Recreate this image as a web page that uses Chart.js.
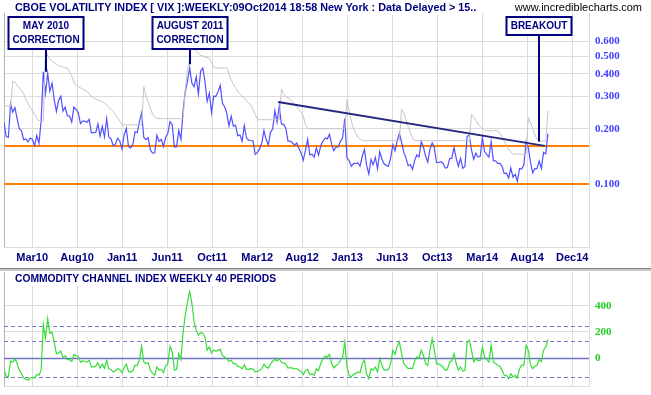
<!DOCTYPE html>
<html lang="en">
<head>
<meta charset="UTF-8" />
<title>CBOE Volatility Index weekly</title>
<script src="https://cdn.jsdelivr.net/npm/chart.js@4.4.1/dist/chart.umd.min.js"></script>
<style>
  body { margin: 0; background: #fff; }
  #wrap { position: relative; width: 651px; height: 395px; overflow: hidden; }
  #wrap canvas { position: absolute; left: 0; }
  #sep1 { position: absolute; left: 0; top: 268px; width: 651px; height: 1px; background: #808080; }
  #sep2 { position: absolute; left: 0; top: 269px; width: 651px; height: 2px; background: #c8c8c8; }
</style>
</head>
<body>
<div id="wrap">
  <canvas id="vixChart" width="651" height="268" style="top:0"></canvas>
  <div id="sep1"></div><div id="sep2"></div>
  <canvas id="cciChart" width="651" height="124" style="top:271px"></canvas>
</div>
<script>
// weekly closes, week ending 1 Jan 2010 .. 9 Oct 2014 (VIX / 100)
const vixClose = [
  0.2168, 0.1813, 0.1791, 0.2731, 0.2462, 0.2611, 0.2273, 0.2002, 0.1950, 0.1742,
  0.1758, 0.1697, 0.1777, 0.1747, 0.1614, 0.1836, 0.1662, 0.2205, 0.4095, 0.3124,
  0.4010, 0.3207, 0.3548, 0.2879, 0.2488, 0.2853, 0.3012, 0.2498, 0.2625, 0.2347,
  0.2350, 0.2174, 0.2624, 0.2549, 0.2445, 0.2131, 0.2199, 0.2201, 0.2171, 0.2250,
  0.1896, 0.1903, 0.1908, 0.2120, 0.1826, 0.2061, 0.1804, 0.2273, 0.1801, 0.1761,
  0.1611, 0.1647, 0.1775,
  0.1714, 0.1546, 0.1847, 0.2004, 0.1593, 0.1569, 0.1643, 0.1922, 0.1906, 0.2188,
  0.2444, 0.1791, 0.1740, 0.1787, 0.1532, 0.1469, 0.1475, 0.1840, 0.1707, 0.1743,
  0.1598, 0.1795, 0.1886, 0.2185, 0.2110, 0.1587, 0.1595, 0.1953, 0.1752, 0.2525,
  0.3200, 0.3636, 0.4305, 0.3559, 0.3392, 0.3852, 0.3098, 0.4125, 0.4296, 0.3627,
  0.2824, 0.3132, 0.2453, 0.3016, 0.3004, 0.3200, 0.3447, 0.2752, 0.2638, 0.2429,
  0.2073, 0.2340,
  0.2063, 0.2091, 0.1828, 0.1853, 0.1710, 0.2079, 0.1778, 0.1731, 0.1729, 0.1711,
  0.1447, 0.1482, 0.1550, 0.1670, 0.1955, 0.1744, 0.1632, 0.1916, 0.1989, 0.2510,
  0.2176, 0.2666, 0.2123, 0.2111, 0.2011, 0.1708, 0.1710, 0.1674, 0.1627, 0.1670,
  0.1564, 0.1474, 0.1345, 0.1518, 0.1747, 0.1438, 0.1451, 0.1398, 0.1573, 0.1433,
  0.1614, 0.1706, 0.1781, 0.1759, 0.1861, 0.1641, 0.1514, 0.1587, 0.1590, 0.1700,
  0.1784, 0.2272,
  0.1383, 0.1336, 0.1246, 0.1289, 0.1290, 0.1302, 0.1246, 0.1417, 0.1536, 0.1259,
  0.1130, 0.1357, 0.1270, 0.1392, 0.1206, 0.1497, 0.1361, 0.1285, 0.1259, 0.1245,
  0.1385, 0.1630, 0.1514, 0.1715, 0.1890, 0.1686, 0.1489, 0.1384, 0.1254, 0.1272,
  0.1198, 0.1341, 0.1437, 0.1398, 0.1701, 0.1585, 0.1416, 0.1312, 0.1546, 0.1674,
  0.1572, 0.1304, 0.1309, 0.1319, 0.1290, 0.1219, 0.1226, 0.1370, 0.1379, 0.1576,
  0.1379, 0.1246,
  0.1376, 0.1214, 0.1244, 0.1814, 0.1841, 0.1529, 0.1357, 0.1468, 0.1400, 0.1411,
  0.1782, 0.1500, 0.1441, 0.1396, 0.1703, 0.1336, 0.1332, 0.1291, 0.1292, 0.1244,
  0.1136, 0.1140, 0.1073, 0.1218, 0.1085, 0.1126, 0.1032, 0.1208, 0.1206, 0.1269,
  0.1695, 0.1577, 0.1315, 0.1147, 0.1209, 0.1209, 0.1331, 0.1211, 0.1485, 0.1455,
  0.1876
];

// grey stop line above the price
const stopLine = [
  0.270, 0.268, 0.265, 0.262, 0.365, 0.360, 0.345, 0.335, 0.325, 0.310,
  0.290, 0.275, 0.262, 0.250, 0.240, 0.228, 0.222, 0.220, 0.220, 0.540,
  0.500, 0.480, 0.470, 0.460, 0.450, 0.440, 0.440, 0.435, 0.430, 0.430,
  0.410, 0.390, 0.360, 0.345, 0.340, 0.335, 0.330, 0.325, 0.320, 0.310,
  0.300, 0.295, 0.290, 0.288, 0.285, 0.280, 0.275, 0.270, 0.262, 0.255,
  0.248, 0.240, 0.230, 0.220, 0.210, 0.210, 0.210, 0.210, 0.210, 0.210,
  0.210, 0.210, 0.210, 0.210, 0.340, 0.300, 0.280, 0.260, 0.240, 0.232,
  0.227, 0.227, 0.227, 0.227, 0.227, 0.227, 0.227, 0.227, 0.227, 0.227,
  0.227, 0.227, 0.227, 0.330, 0.420, 0.480, 0.610, 0.570, 0.530, 0.515,
  0.505, 0.500, 0.495, 0.490, 0.485, 0.460, 0.435, 0.430, 0.430, 0.430,
  0.430, 0.430, 0.430, 0.400, 0.370, 0.350, 0.335, 0.320, 0.310, 0.300,
  0.295, 0.285, 0.275, 0.270, 0.255, 0.240, 0.224, 0.224, 0.224, 0.224,
  0.224, 0.224, 0.224, 0.224, 0.224, 0.224, 0.224, 0.330, 0.310, 0.300,
  0.295, 0.290, 0.280, 0.270, 0.265, 0.255, 0.245, 0.235, 0.210, 0.200,
  0.200, 0.200, 0.200, 0.200, 0.200, 0.200, 0.200, 0.200, 0.200, 0.200,
  0.200, 0.200, 0.200, 0.200, 0.200, 0.200, 0.200, 0.288, 0.250, 0.220,
  0.200, 0.190, 0.180, 0.175, 0.172, 0.172, 0.172, 0.172, 0.172, 0.172,
  0.172, 0.172, 0.172, 0.172, 0.172, 0.172, 0.172, 0.172, 0.172, 0.172,
  0.172, 0.172, 0.256, 0.245, 0.225, 0.205, 0.190, 0.178, 0.172, 0.172,
  0.172, 0.172, 0.172, 0.172, 0.172, 0.172, 0.172, 0.172, 0.172, 0.172,
  0.172, 0.172, 0.172, 0.172, 0.172, 0.172, 0.172, 0.172, 0.172, 0.172,
  0.172, 0.172, 0.172, 0.172, 0.240, 0.232, 0.222, 0.212, 0.205, 0.200,
  0.195, 0.195, 0.195, 0.195, 0.195, 0.195, 0.195, 0.188, 0.181, 0.171,
  0.162, 0.155, 0.150, 0.145, 0.145, 0.145, 0.145, 0.145, 0.145, 0.145,
  0.230, 0.215, 0.200, 0.185, 0.175, 0.171, 0.171, 0.171, 0.171, 0.250
];

// commodity channel index, 40 periods
const cci = [
  -91, -135, -142, -20, -30, -3, -40, -90, -117, -150,
  -160, -167, -150, -145, -150, -124, -130, -91, 256, 150,
  302, 188, 200, 120, 35, 40, 55, 5, 20, -10,
  -10, -25, 28, 20, 15, -30, -20, -25, -30, -15,
  -66, -66, -60, -35, -75, -45, -75, -15, -80, -85,
  -105, -95, -80, -85, -110, -70, -45, -100, -105, -95,
  -53, -55, -10, 91, -28, -40, -35, -90, -115, -129,
  -66, -90, -85, -110, -60, -40, 91, 48, -91, -85,
  35, -10, 200, 330, 428, 509, 420, 280, 210, 175,
  195, 190, 162, 61, 86, 40, 61, 55, 62, 68,
  20, 10, -3, -25, -15, -41, -40, -60, -66, -80,
  -50, -84, -85, -79, -82, -104, -100, -92, -79, -45,
  -66, -75, -45, -23, -10, -20, -3, -30, -35, -45,
  -74, -72, -75, -80, -78, -91, -100, -124, -95, -84,
  -125, -118, -129, -80, -95, -40, -3, 15, 10, 30,
  -40, -74, -55, -45, -15, 5, 124, -66, -130, -142,
  -120, -117, -104, -110, -40, -15, -120, -155, -79, -90,
  -66, -104, -3, -50, -91, -90, -84, -40, 60, 30,
  90, 124, 35, -41, -60, -79, -75, -79, -20, 10,
  0, 61, 20, -41, -55, 61, 150, 60, -41, -45,
  -53, -70, -91, -85, -28, -20, 35, -40, -91, -66,
  -99, -90, 120, 137, 61, -28, -3, -20, -15, 86,
  10, -10, -28, 99, -28, -40, -53, -60, -90, -129,
  -130, -155, -117, -142, -130, -150, -80, -53, -53, 99,
  61, -45, -79, -60, -53, -10, -25, 61, 86, 144
];

const tickLabels = ['Mar10', 'Aug10', 'Jan11', 'Jun11', 'Oct11', 'Mar12', 'Aug12',
  'Jan13', 'Jun13', 'Oct13', 'Mar14', 'Aug14', 'Dec14'];
const tickWeeks = [12.9, 33.5, 54.1, 74.7, 95.3, 115.9, 136.5, 157.1, 177.7, 198.3, 218.9, 239.5, 260.1];
const vixTicks = [0.1, 0.2, 0.3, 0.4, 0.5, 0.6];
const cciTicks = [0, 200, 400];

const supportLevels = [0.161, 0.100];
const cciBands = [245, 130, -145];
const trendLine = [{ week: 125.5, value: 0.280 }, { week: 247.6, value: 0.161 }];
const notes = [
  { lines: ['MAY 2010', 'CORRECTION'], week: 19.4, tip: 0.41, top: 0.82 },
  { lines: ['AUGUST 2011', 'CORRECTION'], week: 85.1, tip: 0.45, top: 0.82 },
  { lines: ['BREAKOUT'], week: 244.9, tip: 0.17, top: 0.82 }
];

const NAVY = '#000080';
const GRID = '#dcdcdc';
const SANS = '"Liberation Sans", Arial, sans-serif';

function points(arr) {
  return arr.map((v, i) => ({ x: i, y: v }));
}

function xAxis(showLabels, height) {
  return {
    type: 'linear', min: 0, max: 267.8,
    afterBuildTicks: axis => { axis.ticks = tickWeeks.map(v => ({ value: v })); },
    afterFit: s => { s.height = height; s.paddingLeft = 0; s.paddingRight = 0; },
    grid: { color: GRID, drawTicks: false },
    border: { display: true, color: GRID },
    ticks: {
      display: showLabels, autoSkip: false, maxRotation: 0, padding: 4,
      color: NAVY, font: { family: SANS, size: 11, weight: 'bold' },
      callback: (v, i) => tickLabels[i]
    }
  };
}

function yAfterFit(s) {
  s.width = 62;
  s.paddingTop = 0;
  s.paddingBottom = 0;
}

const panelDeco = {
  id: 'panelDeco',
  beforeDatasetsDraw(chart, args, opts) {
    const { ctx, chartArea: a } = chart;
    const y = chart.scales.y;
    ctx.save();
    ctx.strokeStyle = '#b4b4b4';
    ctx.lineWidth = 1;
    ctx.beginPath();
    ctx.moveTo(a.left + 0.5, a.top);
    ctx.lineTo(a.left + 0.5, a.bottom);
    ctx.stroke();
    (opts.levels || []).forEach(l => {
      const py = Math.round(y.getPixelForValue(l.value)) + (l.width % 2 ? 0.5 : 0);
      ctx.strokeStyle = l.color;
      ctx.lineWidth = l.width;
      ctx.setLineDash(l.dash || []);
      ctx.beginPath();
      ctx.moveTo(a.left, py);
      ctx.lineTo(a.right, py);
      ctx.stroke();
    });
    ctx.restore();
  },
  afterDraw(chart, args, opts) {
    const { ctx } = chart;
    const x = chart.scales.x, y = chart.scales.y;
    ctx.save();
    ctx.textBaseline = 'middle';
    if (opts.title) {
      ctx.font = 'bold ' + opts.titleSize + 'px ' + SANS;
      const w = ctx.measureText(opts.title).width;
      ctx.fillStyle = '#fff';
      ctx.fillRect(12, opts.titleY - 7, w + 6, 14);
      ctx.fillStyle = NAVY;
      ctx.textAlign = 'left';
      ctx.fillText(opts.title, 15, opts.titleY);
    }
    if (opts.site) {
      ctx.font = '11px ' + SANS;
      ctx.fillStyle = '#000';
      ctx.textAlign = 'right';
      ctx.fillText(opts.site, 642, opts.titleY);
    }
    if (opts.trend) {
      ctx.strokeStyle = '#262680';
      ctx.lineWidth = 1.8;
      ctx.beginPath();
      opts.trend.forEach((p, i) => {
        const px = x.getPixelForValue(p.week), py = y.getPixelForValue(p.value);
        if (i === 0) ctx.moveTo(px, py); else ctx.lineTo(px, py);
      });
      ctx.stroke();
    }
    (opts.notes || []).forEach(n => {
      ctx.font = 'bold 10px ' + SANS;
      const cx = Math.round(x.getPixelForValue(n.week));
      const top = Math.round(y.getPixelForValue(n.top));
      const w = Math.round(Math.max(...n.lines.map(t => ctx.measureText(t).width)) + 8);
      const h = n.lines.length * 14 + 4;
      ctx.strokeStyle = NAVY;
      ctx.lineWidth = 2;
      ctx.beginPath();
      ctx.moveTo(cx, top + h);
      ctx.lineTo(cx, y.getPixelForValue(n.tip));
      ctx.stroke();
      ctx.fillStyle = '#fff';
      ctx.fillRect(cx - w / 2, top, w, h);
      ctx.strokeRect(cx - w / 2, top, w, h);
      ctx.fillStyle = NAVY;
      ctx.textAlign = 'center';
      n.lines.forEach((t, i) => ctx.fillText(t, cx, top + 9 + i * 14));
    });
    ctx.restore();
  }
};

new Chart(document.getElementById('vixChart').getContext('2d'), {
  type: 'line',
  data: {
    datasets: [
      { data: points(stopLine), borderColor: '#c4c4c4', borderWidth: 1, pointRadius: 0 },
      { data: points(vixClose), borderColor: '#5050ff', borderWidth: 1.2, pointRadius: 0 }
    ]
  },
  options: {
    responsive: false, animation: false,
    layout: { padding: { left: 4, top: 13, right: 0, bottom: 0 } },
    plugins: {
      legend: { display: false }, tooltip: { enabled: false },
      panelDeco: {
        title: 'CBOE VOLATILITY INDEX [ VIX ]:WEEKLY:09Oct2014 18:58 New York : Data Delayed > 15..',
        titleSize: 10.8,
        site: 'www.incrediblecharts.com',
        titleY: 8,
        levels: supportLevels.map(v => ({ value: v, color: '#ff8000', width: 2 })),
        trend: trendLine,
        notes: notes
      }
    },
    scales: {
      x: xAxis(true, 21),
      y: {
        type: 'logarithmic', position: 'right', min: 0.045, max: 0.86,
        afterBuildTicks: axis => { axis.ticks = vixTicks.map(v => ({ value: v })); },
        afterFit: yAfterFit,
        grid: { color: GRID, drawTicks: false },
        border: { display: true, color: GRID },
        ticks: {
          padding: 6, color: '#4040ff',
          font: { family: '"Liberation Serif", serif', size: 11, weight: 'bold' },
          callback: v => Number(v).toFixed(3)
        }
      }
    }
  },
  plugins: [panelDeco]
});

new Chart(document.getElementById('cciChart').getContext('2d'), {
  type: 'line',
  data: {
    datasets: [
      { data: points(cci), borderColor: '#38dc38', borderWidth: 1.2, pointRadius: 0 }
    ]
  },
  options: {
    responsive: false, animation: false,
    layout: { padding: { left: 4, top: 1, right: 0, bottom: 0 } },
    plugins: {
      legend: { display: false }, tooltip: { enabled: false },
      panelDeco: {
        title: 'COMMODITY CHANNEL INDEX WEEKLY 40 PERIODS',
        titleSize: 10.3,
        titleY: 8,
        levels: [{ value: 0, color: '#7070c8', width: 1.5 }].concat(
          cciBands.map(v => ({ value: v, color: '#7a7ac8', width: 1, dash: [4, 3] })))
      }
    },
    scales: {
      x: xAxis(false, 9),
      y: {
        type: 'linear', position: 'right', min: -211, max: 656,
        afterBuildTicks: axis => { axis.ticks = cciTicks.map(v => ({ value: v })); },
        afterFit: yAfterFit,
        grid: { color: c => (c.tick && c.tick.value === 0 ? 'rgba(0,0,0,0)' : GRID), drawTicks: false },
        border: { display: true, color: GRID },
        ticks: {
          padding: 6, color: '#22cc22',
          font: { family: '"Liberation Serif", serif', size: 11, weight: 'bold' },
          callback: v => String(v)
        }
      }
    }
  },
  plugins: [panelDeco]
});
</script>
</body>
</html>
